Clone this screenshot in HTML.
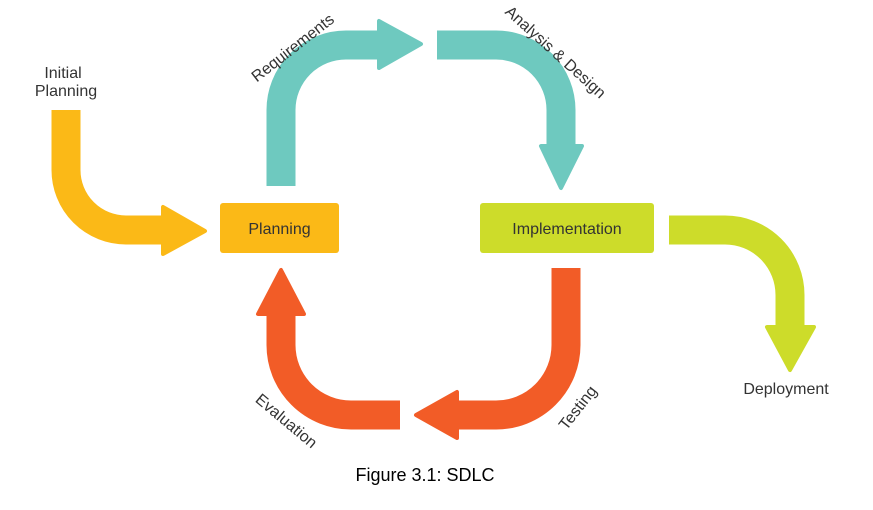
<!DOCTYPE html>
<html><head><meta charset="utf-8"><style>
html,body{margin:0;padding:0;background:#fff;width:873px;height:510px;overflow:hidden}
text{font-family:"Liberation Sans",sans-serif;fill:#333}
</style></head><body>
<svg width="873" height="510" viewBox="0 0 873 510" xmlns="http://www.w3.org/2000/svg">
<g fill="none" stroke-width="29" stroke-linejoin="round">
<path d="M66 110 V170 A60 60 0 0 0 126 230 H164" stroke="#FBB917"/>
<path d="M281 186 V110 A65 65 0 0 1 346 45 H380" stroke="#6EC9BF"/>
<path d="M437 45 H496 A65 65 0 0 1 561 110 V147" stroke="#6EC9BF"/>
<path d="M669 230 H725 A65 65 0 0 1 790 295 V327" stroke="#CDDC2A"/>
<path d="M566 268 V345 A70 70 0 0 1 496 415 H456" stroke="#F25C27"/>
<path d="M400 415 H351 A70 70 0 0 1 281 345 V313" stroke="#F25C27"/>
</g>
<g stroke-linejoin="round" stroke-width="4">
<polygon points="163,207 163,254 205,231" fill="#FBB917" stroke="#FBB917"/>
<polygon points="379,21 379,68 421,44" fill="#6EC9BF" stroke="#6EC9BF"/>
<polygon points="541,146 582,146 561,188" fill="#6EC9BF" stroke="#6EC9BF"/>
<polygon points="767,327 814,327 790,370" fill="#CDDC2A" stroke="#CDDC2A"/>
<polygon points="457,392 457,438 416,415" fill="#F25C27" stroke="#F25C27"/>
<polygon points="258,314 304,314 281,270" fill="#F25C27" stroke="#F25C27"/>
</g>
<rect x="220" y="203" width="119" height="50" rx="3" fill="#FBB917"/>
<text x="279.5" y="234" font-size="16" text-anchor="middle">Planning</text>
<rect x="480" y="203" width="174" height="50" rx="3" fill="#CDDC2A"/>
<text x="567" y="234" font-size="16" text-anchor="middle">Implementation</text>
<text x="63" y="78" font-size="16" text-anchor="middle">Initial</text>
<text x="66" y="96" font-size="16" text-anchor="middle">Planning</text>
<text x="786" y="394" font-size="16" text-anchor="middle">Deployment</text>
<text font-size="16" text-anchor="middle" transform="translate(296,52) rotate(-38)">Requirements</text>
<text font-size="16" text-anchor="middle" transform="translate(552,56) rotate(42)">Analysis &amp; Design</text>
<text font-size="16" text-anchor="middle" transform="translate(582,411) rotate(-52)">Testing</text>
<text font-size="16" text-anchor="middle" transform="translate(283,425) rotate(40)">Evaluation</text>
<text x="425" y="481" font-size="18" text-anchor="middle" style="fill:#000">Figure 3.1: SDLC</text>
</svg>
</body></html>
